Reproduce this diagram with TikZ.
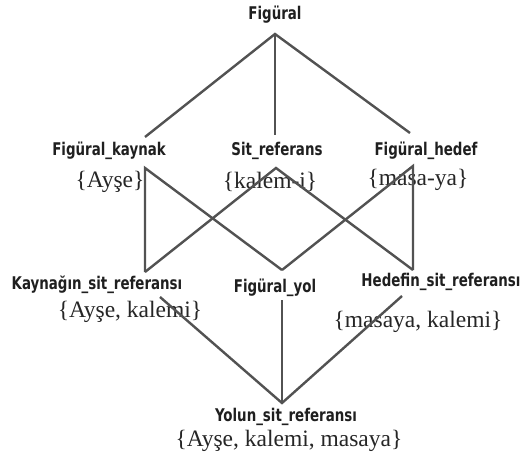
\documentclass[tikz,border=0pt]{standalone}
\usepackage{fontspec}
\setmainfont{Liberation Serif}
\newfontfamily\labfont{DejaVu Sans Condensed}
\newcommand{\lbt}[1]{\scalebox{0.85}[1]{#1}}
\begin{document}
\begin{tikzpicture}[x=1pt,y=-1pt,
  lab/.style={font=\labfont\bfseries\fontsize{17.5}{18}\selectfont, text=black!88, inner sep=0pt},
  setl/.style={font=\fontsize{23.5}{25}\selectfont, text=black!85, inner sep=0pt},
  edge/.style={draw=black!68, line width=2.4pt, line join=miter}]
\useasboundingbox[fill=white] (0,0) rectangle (523,455);
% labels
\node[lab] (fig) at (275,15) {\lbt{Figüral}};
\node[lab] (fkl) at (109,151) {\lbt{Figüral\_kaynak}};
\node[lab] (srl) at (277,151) {\lbt{Sit\_referans}};
\node[lab] (fhl) at (426,151) {\lbt{Figüral\_hedef}};
\node[setl] (fks) at (110,182) {\{Ayşe\}};
\node[setl] (srs) at (270,182) {\{kalem-i\}};
\node[setl] (fhs) at (418,180) {\{masa-ya\}};
\node[lab] (ksl) at (97,285) {\lbt{Kaynağın\_sit\_referansı}};
\node[lab] (fyl) at (275,288) {\lbt{Figüral\_yol}};
\node[lab] (hsl) at (441,282) {\lbt{Hedefin\_sit\_referansı}};
\node[setl] (kss) at (130,312) {\{Ayşe, kalemi\}};
\node[setl] (hss) at (418,322) {\{masaya, kalemi\}};
\node[lab] (ysl) at (286,417) {\lbt{Yolun\_sit\_referansı}};
\node[setl] (yss) at (289,441) {\{Ayşe, kalemi, masaya\}};
% connection points
\coordinate (figb) at (275,34);
\coordinate (fkt) at (145,137);
\coordinate (srt) at (275,135);
\coordinate (fht) at (410,133);
\coordinate (fkx) at (145,168);
\coordinate (srx) at (276,168);
\coordinate (fhx) at (413,166);
\coordinate (ksa) at (145,272);
\coordinate (fya) at (282,270);
\coordinate (hsa) at (413,270);
\coordinate (ksb) at (160,297);
\coordinate (fyb) at (282,300);
\coordinate (hsb) at (402,296);
\coordinate (ysa) at (282,403);
% edges
\draw[edge] (fkt) -- (figb) -- (fht);
\draw[edge] (figb) -- (srt);
\draw[edge] (ksa) -- (fkx) -- (fya);
\draw[edge] (ksa) -- (srx) -- (hsa);
\draw[edge] (fya) -- (fhx) -- (hsa);
\draw[edge] (ksb) -- (ysa) -- (hsb);
\draw[edge] (fyb) -- (ysa);
\end{tikzpicture}
\end{document}
